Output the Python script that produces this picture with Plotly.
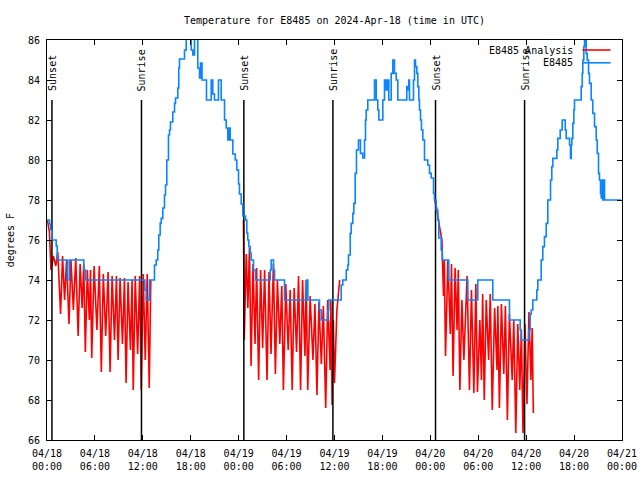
import plotly.graph_objects as go
import pandas as pd

BASE = pd.Timestamp("2024-04-18 00:00")
FONT = "DejaVu Sans Mono"

# ---- Observed station temperature (hours after 04/18 00:00 UTC, degrees F) ----
obs_hours = [0.0, 0.31, 0.44, 0.6, 1.15, 1.28, 2.57, 2.82, 4.61, 4.82, 12.25, 12.42, 12.84,
             13.46, 13.67, 13.87, 14.0, 14.17, 14.3, 14.5, 14.71, 14.84, 15.0, 15.21, 15.34,
             15.46, 15.75, 15.97, 16.09, 16.38, 16.5, 16.59, 17.22, 17.43, 18.06, 18.26, 18.47,
             18.88, 19.1, 19.22, 19.41, 19.97, 20.56, 20.76, 20.97, 21.47, 21.81, 22.23, 22.44,
             22.64, 22.76, 22.94, 23.27, 23.57, 23.77, 23.98, 24.1, 24.32, 24.52, 24.86, 25.02,
             25.14, 25.27, 25.44, 25.57, 25.86, 26.11, 27.95, 28.07, 28.36, 28.49, 29.74, 32.53,
             32.66, 34.12, 34.34, 35.16, 35.29, 36.84, 37.04, 37.47, 37.67, 37.75, 37.97, 38.09,
             38.29, 38.42, 38.59, 38.75, 39.0, 39.25, 39.54, 39.76, 39.88, 39.97, 40.17, 41.01,
             41.22, 41.42, 41.55, 42.05, 42.26, 42.47, 42.67, 42.8, 43.1, 43.3, 43.51, 43.73,
             43.93, 45.05, 45.18, 45.3, 45.39, 45.89, 46.02, 46.14, 46.31, 46.43, 46.56, 46.64,
             46.77, 46.89, 47.06, 47.27, 47.68, 47.9, 48.11, 48.4, 48.52, 48.73, 48.94, 49.06,
             49.36, 49.49, 50.31, 52.69, 53.94, 55.82, 57.91, 59.25, 59.37, 60.33, 60.5, 60.63,
             60.83, 61.33, 61.46, 61.88, 62.08, 62.29, 62.51, 62.71, 63.05, 63.21, 63.34, 63.84,
             63.96, 64.26, 64.51, 64.89, 65.01, 65.43, 65.55, 65.64, 65.72, 65.84, 65.97, 66.05,
             66.89, 67.02, 67.09, 67.22, 67.31, 67.52, 67.64, 67.81, 67.93, 68.14, 68.34, 68.56,
             68.77, 68.9, 69.06, 69.18, 69.31, 69.4, 69.52, 69.6, 69.68, 69.81, 71.9]
obs_temps = [77.0, 76.8, 76.5, 76.0, 75.7, 75.0, 74.0, 75.0, 74.5, 74.0, 73.5, 73.0, 74.0,
             74.75, 75.0, 75.5, 76.25, 76.83, 77.08, 77.6, 78.25, 78.75, 80.0, 81.25, 81.5,
             81.9, 82.4, 82.83, 83.1, 83.6, 84.6, 85.05, 85.5, 86.5, 85.5, 85.25, 86.5,
             84.6, 84.1, 84.85, 84.0, 83.0, 84.0, 83.3, 83.0, 84.0, 83.0, 82.0, 81.6,
             81.0, 81.6, 81.0, 80.3, 80.0, 79.5, 78.8, 78.3, 77.8, 77.2, 77.0, 76.35,
             76.0, 75.67, 75.33, 75.0, 74.5, 74.0, 74.5, 75.0, 74.5, 74.0, 73.0, 74.0,
             73.0, 72.5, 72.0, 72.5, 73.0, 73.75, 74.0, 74.5, 74.75, 75.25, 76.33, 76.83,
             77.33, 77.83, 79.33, 80.5, 81.0, 80.33, 80.1, 81.0, 82.0, 82.5, 83.0, 84.0,
             83.0, 82.5, 82.0, 83.0, 84.0, 83.5, 84.0, 83.0, 84.33, 85.0, 84.33, 84.0,
             83.0, 83.67, 83.5, 84.0, 83.0, 84.0, 85.0, 84.67, 84.33, 83.67, 83.0, 82.5,
             82.0, 81.5, 81.0, 80.0, 79.75, 79.33, 79.1, 78.33, 78.0, 77.5, 77.0, 76.1,
             75.5, 75.0, 74.0, 73.0, 74.0, 73.0, 72.0, 71.5, 71.0, 71.5, 72.3, 72.5,
             73.0, 73.5, 74.0, 75.0, 75.67, 76.17, 76.83, 78.0, 79.0, 79.67, 80.08, 80.5,
             81.08, 81.5, 82.0, 81.5, 81.08, 80.75, 80.08, 80.75, 81.08, 81.83, 82.5, 83.0,
             83.67, 84.33, 85.0, 85.67, 86.3, 85.33, 85.0, 84.33, 83.83, 83.0, 82.33, 81.67,
             81.0, 80.33, 79.33, 79.0, 78.33, 78.1, 79.0, 78.0, 79.0, 78.0, 78.0]

# ---- Analysis (night-time only), three nights ----
ana1_hours = [0.05, 0.3, 0.5, 0.8, 1.1, 1.35, 1.7, 1.95, 2.2, 2.45, 2.75, 3.0, 3.3, 3.6, 3.9,
              4.15, 4.4, 4.6, 4.8, 5.05, 5.3, 5.45, 5.6, 5.9, 6.25, 6.55, 6.8, 7.05, 7.35,
              7.65, 7.9, 8.15, 8.45, 8.7, 8.9, 9.15, 9.45, 9.7, 9.9, 10.15, 10.45, 10.65,
              10.8, 11.05, 11.35, 11.6, 11.8, 12.05, 12.3, 12.55, 12.8, 13.0]
ana1_temps = [77.0, 76.4, 74.5, 75.2, 74.7, 75.4, 72.3, 75.2, 73.0, 75.0, 71.8, 75.0, 72.5,
              75.1, 71.2, 74.8, 72.6, 74.8, 70.4, 74.5, 72.0, 74.5, 70.1, 74.7, 71.5, 74.7,
              69.4, 74.3, 71.2, 74.4, 69.4, 74.2, 71.0, 74.2, 70.0, 74.1, 70.8, 74.1, 68.85,
              73.9, 70.5, 74.0, 68.5, 74.2, 70.3, 74.2, 68.5, 74.3, 70.0, 74.3, 68.6, 74.0]

ana2_hours = [24.6, 24.7, 24.8, 24.95, 25.15, 25.35, 25.55, 25.8, 26.05, 26.25, 26.5, 26.75,
              27.0, 27.25, 27.55, 27.8, 28.05, 28.35, 28.6, 28.85, 29.15, 29.4, 29.6, 29.9,
              30.2, 30.45, 30.7, 30.95, 31.25, 31.5, 31.75, 32.0, 32.3, 32.45, 32.65, 32.95,
              33.3, 33.55, 33.8, 34.05, 34.35, 34.6, 34.9, 35.15, 35.45, 35.55, 35.7, 35.85,
              36.0, 36.3, 36.65]
ana2_temps = [77.0, 71.0, 72.8, 75.3, 72.6, 75.6, 69.7, 74.8, 70.8, 74.6, 69.0, 74.5,
              70.6, 74.5, 69.0, 74.4, 70.3, 74.8, 69.3, 74.0, 70.8, 73.7, 68.5, 73.8,
              70.5, 73.5, 68.5, 73.6, 70.4, 74.2, 68.5, 74.0, 70.2, 74.0, 68.5, 73.2,
              70.0, 72.8, 68.25, 72.9, 69.8, 72.7, 67.6, 73.0, 69.5, 73.0, 67.75, 72.0,
              68.85, 72.5, 74.0]

ana3_hours = [48.55, 48.8, 49.0, 49.2, 49.45, 49.65, 49.75, 49.9, 50.2, 50.5, 50.65, 50.85,
              51.1, 51.35, 51.5, 51.7, 51.95, 52.2, 52.6, 52.9, 53.15, 53.45, 53.7, 53.9,
              54.2, 54.4, 54.55, 54.75, 55.0, 55.3, 55.5, 55.75, 56.05, 56.35, 56.45, 56.65,
              56.9, 57.2, 57.4, 57.65, 57.9, 58.25, 58.45, 58.7, 58.95, 59.2, 59.4, 59.6,
              59.85, 60.1, 60.35, 60.6, 60.75, 60.9]
ana3_temps = [78.0, 77.6, 77.0, 76.5, 76.0, 73.2, 75.0, 70.2, 75.0, 71.3, 74.8, 69.2,
              74.6, 71.5, 74.5, 68.5, 73.0, 70.0, 74.2, 68.5, 73.5, 68.35, 73.8, 68.4,
              72.0, 69.0, 73.3, 68.0, 73.0, 70.0, 73.3, 67.5, 72.6, 69.5, 72.7, 67.6,
              72.8, 69.3, 72.7, 67.0, 72.3, 69.0, 72.0, 66.35, 71.8, 68.5, 71.5, 66.35,
              71.8, 67.8, 72.4, 69.0, 71.6, 67.35]

# ---- Sun events ----
sun_labels = ["Sunset", "Sunrise", "Sunset", "Sunrise", "Sunset", "Sunrise"]
sun_hours = [0.62, 11.83, 24.65, 35.8, 48.65, 59.8]

# ---- Axis ticks ----
tick_hours = [0, 6, 12, 18, 24, 30, 36, 42, 48, 54, 60, 66, 72]
tick_text = ["04/18<br>00:00", "04/18<br>06:00", "04/18<br>12:00", "04/18<br>18:00",
             "04/19<br>00:00", "04/19<br>06:00", "04/19<br>12:00", "04/19<br>18:00",
             "04/20<br>00:00", "04/20<br>06:00", "04/20<br>12:00", "04/20<br>18:00",
             "04/21<br>00:00"]
y_ticks = [66, 68, 70, 72, 74, 76, 78, 80, 82, 84, 86]

RED = "#ff0000"
BLUE = "#0a84ff"
FIG_W, FIG_H = 640, 480


def to_time(hours):
    return [BASE + pd.Timedelta(hours=h) for h in hours]


fig = go.Figure()

# Analysis: three nights joined with gaps
ax, ay = [], []
for hrs, vals in [(ana1_hours, ana1_temps), (ana2_hours, ana2_temps), (ana3_hours, ana3_temps)]:
    ax += to_time(hrs) + [None]
    ay += vals + [None]
fig.add_trace(go.Scatter(x=ax, y=ay, mode="lines", line=dict(color=RED, width=1.6),
                         name="E8485 Analysis", connectgaps=False, showlegend=False))

# Sun event vertical lines
sx, sy = [], []
for h in sun_hours:
    t = BASE + pd.Timedelta(hours=h)
    sx += [t, t, None]
    sy += [83.0, 66, None]
fig.add_trace(go.Scatter(x=sx, y=sy, mode="lines", line=dict(color="black", width=1.5),
                         showlegend=False, hoverinfo="skip"))

# Observations
fig.add_trace(go.Scatter(x=to_time(obs_hours), y=obs_temps, mode="lines",
                         line=dict(color=BLUE, width=1.6, shape="hv"),
                         name="E8485", showlegend=False))

annotations = []
for lbl, h in zip(sun_labels, sun_hours):
    annotations.append(dict(x=BASE + pd.Timedelta(hours=h), y=83.4, xref="x", yref="y",
                            text=lbl, textangle=-90, showarrow=False, xanchor="center",
                            yanchor="bottom", borderpad=0,
                            font=dict(family=FONT, size=10, color="black")))

# Legend (gnuplot style: text then sample line)
leg_rows = [("E8485 Analysis", RED, 0.975), ("E8485", BLUE, 0.943)]
shapes = []
for txt, col, yy in leg_rows:
    annotations.append(dict(x=0.919, y=yy, xref="paper", yref="paper", text=txt,
                            showarrow=False, xanchor="right", yanchor="middle",
                            font=dict(family=FONT, size=10, color="black")))
    shapes.append(dict(type="line", xref="paper", yref="paper", x0=0.931, x1=0.980,
                       y0=yy, y1=yy, line=dict(color=col, width=1.6)))

annotations.append(dict(x=-0.064, y=0.5, xref="paper", yref="paper", text="degrees F",
                        textangle=-90, showarrow=False, xanchor="center", yanchor="middle",
                        font=dict(family=FONT, size=10, color="black")))

fig.update_layout(
    width=FIG_W, height=FIG_H,
    margin=dict(l=47, r=18, t=40, b=40, autoexpand=False),
    paper_bgcolor="white", plot_bgcolor="white",
    title=dict(text="Temperature for E8485 on 2024-Apr-18 (time in UTC)",
               x=0.5, xref="paper", xanchor="center", y=1 - 20 / FIG_H, yref="container",
               yanchor="middle", font=dict(family=FONT, size=10, color="black")),
    font=dict(family=FONT, size=10, color="black"),
    annotations=annotations, shapes=shapes,
    showlegend=False,
)
fig.update_xaxes(range=[BASE, BASE + pd.Timedelta(hours=72)],
                 tickvals=to_time(tick_hours), ticktext=tick_text,
                 ticks="inside", ticklen=5, tickcolor="black", mirror="ticks",
                 showline=True, linecolor="black", linewidth=1, showgrid=False,
                 zeroline=False, ticklabelstandoff=4, automargin=False,
                 tickfont=dict(family=FONT, size=10, color="black"))
fig.update_yaxes(range=[66, 86], tickvals=y_ticks,
                 ticks="inside", ticklen=5, tickcolor="black", mirror="ticks",
                 showline=True, linecolor="black", linewidth=1, showgrid=False,
                 zeroline=False, ticklabelstandoff=4, automargin=False,
                 tickfont=dict(family=FONT, size=10, color="black"))

# Remove the default page margin so the 640x480 figure fills the window exactly.
fig.write_html("out.html",
               config={"displayModeBar": False},
               post_script="document.body.style.margin='0px';"
                           "document.body.style.overflow='hidden';")
